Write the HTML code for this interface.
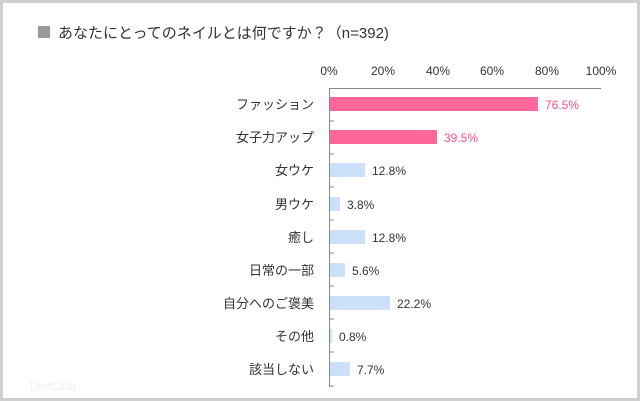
<!DOCTYPE html>
<html><head><meta charset="utf-8"><style>
body{margin:0;background:#fff}
#f{position:absolute;left:0;top:0;width:634px;height:395px;border:3px solid #cfcfcf;background:#fff}
</style></head><body>
<div id="f"></div>
<svg width="640" height="401" style="position:absolute;left:0;top:0" font-family="'Liberation Sans','Noto Sans CJK JP',sans-serif">
<rect x="38" y="26" width="12" height="12" fill="#999"/>
<text x="58" y="38" font-size="15" fill="#333">あなたにとってのネイルとは何ですか？（n=392)</text>
<g font-size="12" fill="#333" text-anchor="middle">
<text x="329" y="75">0%</text><text x="383" y="75">20%</text><text x="438" y="75">40%</text>
<text x="492" y="75">60%</text><text x="547" y="75">80%</text><text x="601" y="75">100%</text>
</g>
<line x1="329" y1="88.5" x2="601" y2="88.5" stroke="#888"/>
<line x1="329.5" y1="88" x2="329.5" y2="387" stroke="#888"/>
<g stroke="#888">
<line x1="329" y1="121" x2="334" y2="121"/><line x1="329" y1="154" x2="334" y2="154"/>
<line x1="329" y1="187" x2="334" y2="187"/><line x1="329" y1="220" x2="334" y2="220"/>
<line x1="329" y1="253" x2="334" y2="253"/><line x1="329" y1="286" x2="334" y2="286"/>
<line x1="329" y1="319" x2="334" y2="319"/><line x1="329" y1="352" x2="334" y2="352"/>
<line x1="329" y1="386" x2="334" y2="386"/>
</g>
<g font-size="13" fill="#333" text-anchor="end">
<text x="314" y="109">ファッション</text><text x="314" y="142">女子力アップ</text>
<text x="314" y="175">女ウケ</text><text x="314" y="209">男ウケ</text>
<text x="314" y="242">癒し</text><text x="314" y="275">日常の一部</text>
<text x="314" y="308">自分へのご褒美</text><text x="314" y="341">その他</text>
<text x="314" y="374">該当しない</text>
</g>
<rect x="330" y="97" width="208" height="14" fill="#ff6699"/>
<rect x="330" y="130" width="107" height="14" fill="#ff6699"/>
<g fill="#cce0fa">
<rect x="330" y="163" width="35" height="14"/><rect x="330" y="197" width="10" height="14"/>
<rect x="330" y="230" width="35" height="14"/><rect x="330" y="263" width="15" height="14"/>
<rect x="330" y="296" width="60" height="14"/><rect x="330" y="329" width="2" height="14"/>
<rect x="330" y="362" width="20" height="14"/>
</g>
<g font-size="12">
<text x="545" y="109" fill="#ff4d88">76.5%</text><text x="444" y="142" fill="#ff4d88">39.5%</text>
<g fill="#333">
<text x="372" y="175">12.8%</text><text x="347" y="209">3.8%</text>
<text x="372" y="242">12.8%</text><text x="352" y="275">5.6%</text>
<text x="397" y="308">22.2%</text><text x="339" y="341">0.8%</text>
<text x="357" y="374">7.7%</text>
</g></g>
<text x="30" y="390" font-size="12" fill="#eee">DietClub</text>
</svg>
</body></html>
